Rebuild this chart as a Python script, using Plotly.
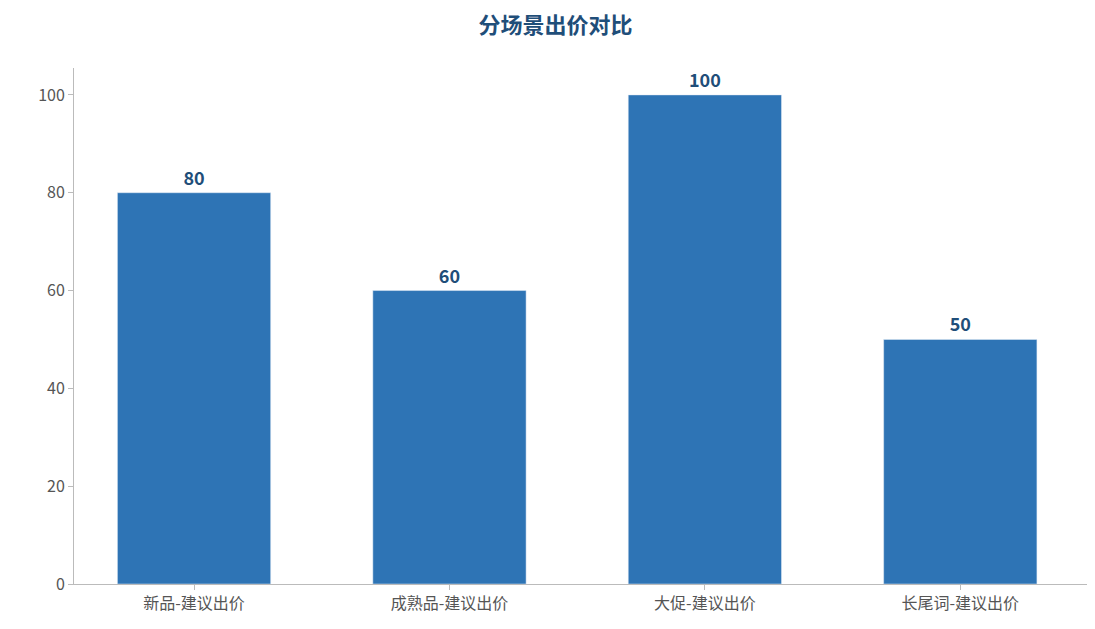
import plotly.graph_objects as go

categories = ["新品-建议出价", "成熟品-建议出价", "大促-建议出价", "长尾词-建议出价"]
values = [80, 60, 100, 50]

fig = go.Figure(go.Bar(
    x=categories, y=values, marker_color="#2E74B5", width=0.6,
    text=[str(v) for v in values], textposition="outside",
    textfont=dict(size=18, color="#1F4E79", family="Noto Sans CJK SC", weight="bold"),
    cliponaxis=False,
))
fig.update_layout(
    width=1095, height=629,
    margin=dict(l=66, r=15, t=60, b=53),
    paper_bgcolor="white", plot_bgcolor="white",
    font=dict(family="Noto Sans CJK SC", size=16, color="#555555"),
    title=dict(text="<b>分场景出价对比</b>", x=0.5, xanchor="center", y=0.985, yanchor="top",
               font=dict(size=22, color="#1F4E79")),
    showlegend=False,
)
fig.update_xaxes(showline=True, linecolor="#BBBBBB", ticks="outside", tickcolor="#BBBBBB",
                 ticklen=5, range=[-0.47, 3.5], showgrid=False)
fig.update_yaxes(showline=True, linecolor="#BBBBBB", ticks="outside", tickcolor="#BBBBBB",
                 ticklen=5, range=[0, 105.5], dtick=20, showgrid=False, zeroline=False)
fig.write_html("out.html")
